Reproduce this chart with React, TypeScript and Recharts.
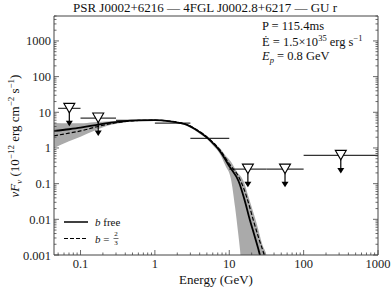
import React from 'react';
import { ComposedChart, Line, Area, Scatter, XAxis, YAxis } from 'recharts';

const W = 391;
const H = 292;
const SERIF = "'Liberation Serif', 'DejaVu Serif', 'Times New Roman', serif";
const AX = '#444';

// flux points per energy band: GeV edges, nuFnu in 1e-12 erg cm^-2 s^-1
const binLo = [0.05, 0.1, 0.3, 1, 3, 10, 31.6, 100];
const binHi = [0.1, 0.3, 1, 3, 10, 31.6, 100, 1000];
const binFlux = [12.9, 6.9, 5.9, 5.0, 1.85, 0.255, 0.255, 0.62];

// upper limit markers
const ulE = [0.0707, 0.173, 17.8, 56.2, 316];
const ulFlux = [12.9, 6.9, 0.255, 0.255, 0.62];

// model with b free (solid)
const freeE = [0.044, 0.07, 0.1, 0.18, 0.34, 0.6, 1, 1.6, 2.2, 2.8, 3.45, 5.16, 7.5, 10.2, 13.4, 16, 18.9, 22, 25.8, 29];
const freeF = [3.0, 3.35, 3.7, 4.6, 5.5, 5.95, 6.0, 5.6, 5.0, 4.3, 3.4, 1.85, 0.81, 0.29, 0.115, 0.036, 0.0097, 0.0033, 0.001, 0.0003];

// model with b = 2/3 (dashed)
const fixedE = [0.044, 0.07, 0.1, 0.18, 0.34, 0.6, 1, 1.6, 2.2, 2.8, 3.45, 5.16, 7.5, 10.2, 13.5, 16, 18.5, 21, 25, 29.5, 33];
const fixedF = [2.2, 2.6, 3.0, 4.1, 5.3, 5.9, 6.0, 5.65, 5.1, 4.4, 3.5, 1.95, 0.88, 0.34, 0.15, 0.065, 0.025, 0.0097, 0.0029, 0.001, 0.0004];

// uncertainty band
const bandE = [0.044, 0.07, 0.1, 0.15, 0.25, 0.4, 0.7, 1, 1.5, 2, 3, 4, 5, 6, 7.5, 9, 10.5, 12, 13, 14, 15.5, 18, 21, 23, 25, 28, 31.5, 34];
const bandLo = [1.0, 1.55, 2.07, 3.0, 4.4, 5.3, 5.7, 5.8, 5.45, 4.9, 3.75, 2.5, 1.8, 1.2, 0.68, 0.3, 0.14, 0.021, 0.0052, 0.0013, 0.0001, 0.0001, 0.0001, 0.0001, 0.0001, 0.0001, 0.0001, 0.0001];
const bandHi = [5.0, 4.9, 4.9, 5.3, 5.6, 6.0, 6.2, 6.2, 5.85, 5.4, 4.2, 2.95, 2.15, 1.5, 0.98, 0.6, 0.42, 0.26, 0.2, 0.17, 0.12, 0.045, 0.016, 0.0085, 0.0045, 0.0019, 0.001, 0.0004];

const xMajor = [0.1, 1, 10, 100, 1000];
const xLabels = ['0.1', '1', '10', '100', '1000'];
const yMajor = [0.001, 0.01, 0.1, 1, 10, 100, 1000];
const yLabels = ['0.001', '0.01', '0.1', '1', '10', '100', '1000'];

const minorTicks = (lo: number, hi: number) => {
  const out: number[] = [];
  for (let d = -4; d <= 4; d++) {
    for (let m = 1; m <= 9; m++) {
      const v = +(m * Math.pow(10, d)).toPrecision(3);
      if (v >= lo * 0.999 && v <= hi * 1.001) out.push(v);
    }
  }
  return out;
};
const xTicks = minorTicks(0.044, 1000);
const yTicks = minorTicks(0.001, 5000);

const majorIdx = (v: number, majors: number[]) => majors.findIndex((m) => Math.abs(v / m - 1) < 1e-6);

const freeData = freeE.map((e, i) => ({ e, f: freeF[i] }));
const fixedData = fixedE.map((e, i) => ({ e, f: fixedF[i] }));
const bandData = bandE.map((e, i) => ({ e, band: [bandLo[i], bandHi[i]] }));
const ulData = ulE.map((e, i) => ({ e, f: ulFlux[i] }));

const txt = { fontFamily: SERIF };

const BottomTick = (props: any) => {
  const { x, y, payload } = props;
  const i = majorIdx(payload.value, xMajor);
  return (
    <g>
      <line x1={x} x2={x} y1={y} y2={y - (i >= 0 ? 5 : 2.5)} stroke={AX} strokeWidth={0.8} />
      {i >= 0 && (
        <text x={x} y={y + 12.5} textAnchor="middle" fontSize={12.5} style={txt} fill="#222">
          {xLabels[i]}
        </text>
      )}
    </g>
  );
};

const TopTick = (props: any) => {
  const { x, y, payload } = props;
  const i = majorIdx(payload.value, xMajor);
  return <line x1={x} x2={x} y1={y} y2={y + (i >= 0 ? 5 : 2.5)} stroke={AX} strokeWidth={0.8} />;
};

const LeftTick = (props: any) => {
  const { x, y, payload } = props;
  const i = majorIdx(payload.value, yMajor);
  return (
    <g>
      <line x1={x} x2={x + (i >= 0 ? 5 : 2.5)} y1={y} y2={y} stroke={AX} strokeWidth={0.8} />
      {i >= 0 && (
        <text x={x - 3} y={y + 4.5} textAnchor="end" fontSize={12.5} style={txt} fill="#222">
          {yLabels[i]}
        </text>
      )}
    </g>
  );
};

const RightTick = (props: any) => {
  const { x, y, payload } = props;
  const i = majorIdx(payload.value, yMajor);
  return <line x1={x} x2={x - (i >= 0 ? 5 : 2.5)} y1={y} y2={y} stroke={AX} strokeWidth={0.8} />;
};

// open downward triangle with arrow, like matplotlib upper limits
const ULMarker = (props: any) => {
  const { cx, cy } = props;
  if (cx == null || cy == null) return <g />;
  return (
    <g>
      <line x1={cx} x2={cx} y1={cy + 4} y2={cy + 13} stroke="#000" strokeWidth={1.2} />
      <polygon points={`${cx - 3.5},${cy + 12.5} ${cx + 3.5},${cy + 12.5} ${cx},${cy + 18}`} fill="#000" />
      <polygon
        points={`${cx - 5.5},${cy - 5} ${cx + 5.5},${cy - 5} ${cx},${cy + 4.5}`}
        fill="#fff"
        stroke="#000"
        strokeWidth={1.1}
      />
    </g>
  );
};

export default function App() {
  return (
    <div style={{ position: 'absolute', left: 0, top: 0, width: W, height: H, background: '#fff', fontFamily: SERIF }}>
      <ComposedChart width={W} height={H} margin={{ top: 0, right: 0, bottom: 0, left: 0 }}>
        <XAxis
          dataKey="e"
          type="number"
          scale="log"
          domain={[0.044, 1000]}
          allowDataOverflow
          ticks={xTicks}
          interval={0}
          tick={<BottomTick />}
          tickLine={false}
          tickSize={0}
          tickMargin={0}
          height={37}
          axisLine={{ stroke: AX, strokeWidth: 1 }}
        />
        <XAxis
          xAxisId="top"
          orientation="top"
          type="number"
          scale="log"
          domain={[0.044, 1000]}
          allowDataOverflow
          ticks={xTicks}
          interval={0}
          tick={<TopTick />}
          tickLine={false}
          tickSize={0}
          tickMargin={0}
          height={16}
          axisLine={{ stroke: AX, strokeWidth: 1 }}
        />
        <YAxis
          type="number"
          scale="log"
          domain={[0.001, 5000]}
          allowDataOverflow
          ticks={yTicks}
          interval={0}
          tick={<LeftTick />}
          tickLine={false}
          tickSize={0}
          tickMargin={0}
          width={54}
          axisLine={{ stroke: AX, strokeWidth: 1 }}
        />
        <YAxis
          yAxisId="right"
          orientation="right"
          type="number"
          scale="log"
          domain={[0.001, 5000]}
          allowDataOverflow
          ticks={yTicks}
          interval={0}
          tick={<RightTick />}
          tickLine={false}
          tickSize={0}
          tickMargin={0}
          width={13}
          axisLine={{ stroke: AX, strokeWidth: 1 }}
        />
        <Area
          data={bandData}
          dataKey="band"
          type="monotone"
          stroke="none"
          fill="#aaaaaa"
          fillOpacity={1}
          isAnimationActive={false}
        />
        {binLo.map((lo, i) => (
          <Line
            key={'bin' + i}
            data={[
              { e: lo, f: binFlux[i] },
              { e: binHi[i], f: binFlux[i] },
            ]}
            dataKey="f"
            type="linear"
            stroke="#333"
            strokeWidth={1.2}
            dot={false}
            isAnimationActive={false}
          />
        ))}
        <Line
          data={fixedData}
          dataKey="f"
          type="monotone"
          stroke="#000"
          strokeWidth={1.2}
          strokeDasharray="4 2"
          dot={false}
          isAnimationActive={false}
        />
        <Line
          data={freeData}
          dataKey="f"
          type="monotone"
          stroke="#000"
          strokeWidth={1.8}
          dot={false}
          isAnimationActive={false}
        />
        <Scatter data={ulData} dataKey="f" shape={<ULMarker />} isAnimationActive={false} />
      </ComposedChart>

      <svg
        width={W}
        height={H}
        style={{ position: 'absolute', left: 0, top: 0, pointerEvents: 'none', fontFamily: SERIF }}
        fill="#111"
      >
        <text x={205} y={12} textAnchor="middle" fontSize={13} style={txt}>
          PSR J0002+6216 — 4FGL J0002.8+6217 — GU r
        </text>

        <text x={262} y={30} fontSize={12.5} style={txt}>P = 115.4ms</text>
        <text x={262} y={46} fontSize={12.5} style={txt}>
          {'E\u0307 = 1.5×10'}
          <tspan fontSize={8.5} dy={-5}>35</tspan>
          <tspan dy={5}> erg s</tspan>
          <tspan fontSize={8.5} dy={-5}>−1</tspan>
        </text>
        <text x={262} y={60} fontSize={12.5} style={txt}>
          <tspan fontStyle="italic">E</tspan>
          <tspan fontSize={8.5} fontStyle="italic" dy={3}>p</tspan>
          <tspan dy={-3}> = 0.8 GeV</tspan>
        </text>

        <text transform="translate(19,136) rotate(-90)" textAnchor="middle" fontSize={13} style={txt}>
          <tspan fontStyle="italic">νF</tspan>
          <tspan fontStyle="italic" fontSize={9} dy={3}>ν</tspan>
          <tspan dy={-3}> (10</tspan>
          <tspan fontSize={9} dy={-5}>−12</tspan>
          <tspan dy={5}> erg cm</tspan>
          <tspan fontSize={9} dy={-5}>−2</tspan>
          <tspan dy={5}> s</tspan>
          <tspan fontSize={9} dy={-5}>−1</tspan>
          <tspan dy={5}>)</tspan>
        </text>

        <text x={216} y={284} textAnchor="middle" fontSize={13} style={txt}>Energy (GeV)</text>

        <line x1={64} x2={88} y1={222} y2={222} stroke="#000" strokeWidth={1.5} />
        <text x={95} y={226} fontSize={11} style={txt}>
          <tspan fontStyle="italic">b</tspan> free
        </text>
        <line x1={64} x2={88} y1={238.5} y2={238.5} stroke="#000" strokeWidth={1.2} strokeDasharray="4 2" />
        <text x={95} y={242.5} fontSize={11} style={txt}>
          <tspan fontStyle="italic">b</tspan> =
        </text>
        <text x={116} y={236} fontSize={7} textAnchor="middle" style={txt}>2</text>
        <line x1={113.5} x2={118.5} y1={238.5} y2={238.5} stroke="#111" strokeWidth={0.6} />
        <text x={116} y={245} fontSize={7} textAnchor="middle" style={txt}>3</text>
      </svg>
    </div>
  );
}
